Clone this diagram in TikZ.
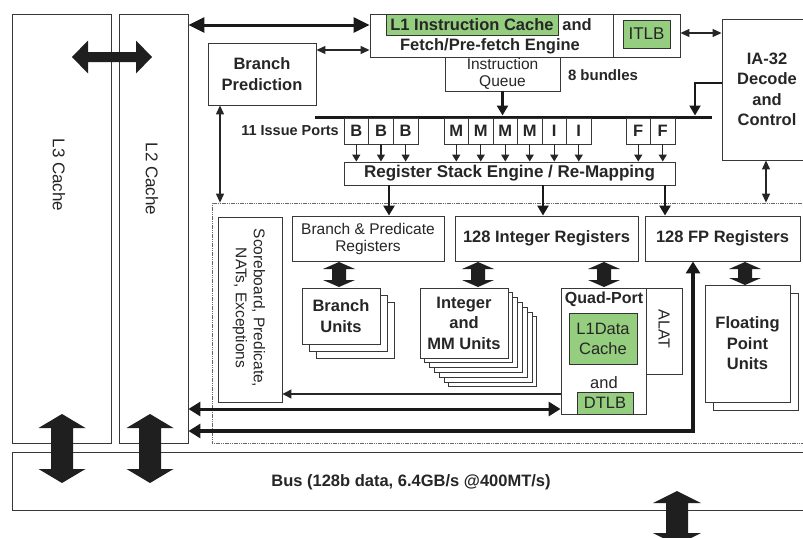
\documentclass[tikz,border=0pt]{standalone}
\usepackage{fontspec}
\setmainfont{Liberation Sans}
\usetikzlibrary{arrows.meta,calc}
\definecolor{hl}{RGB}{150,206,128}
\newcommand\vdarr[6]{\fill[arrfill] (#1,#2) -- ({#1+#5},{#2+#6}) -- ({#1+#4},{#2+#6}) -- ({#1+#4},{#3-#6}) -- ({#1+#5},{#3-#6}) -- (#1,#3) -- ({#1-#5},{#3-#6}) -- ({#1-#4},{#3-#6}) -- ({#1-#4},{#2+#6}) -- ({#1-#5},{#2+#6}) -- cycle;}
\newcommand\hdarr[6]{\fill[arrfill] (#2,#1) -- ({#2+#6},{#1-#5}) -- ({#2+#6},{#1-#4}) -- ({#3-#6},{#1-#4}) -- ({#3-#6},{#1-#5}) -- (#3,#1) -- ({#3-#6},{#1+#5}) -- ({#3-#6},{#1+#4}) -- ({#2+#6},{#1+#4}) -- ({#2+#6},{#1+#5}) -- cycle;}
\begin{document}
\begin{tikzpicture}[x=1pt,y=-1pt,
  box/.style={draw=black!78, line width=0.9pt, fill=white, inner sep=0pt, align=center},
  gbox/.style={draw=black!80, line width=0.9pt, fill=hl, inner sep=0pt, align=center},
  bft/.style={font=\fontsize{16.5}{20.5}\selectfont\bfseries, text=black!85},
  rgt/.style={font=\fontsize{15.5}{17}\selectfont, text=black!85},
  lbl/.style={inner sep=0pt, align=center},
  port/.style={box, minimum height=26pt, font=\fontsize{16.5}{18}\selectfont\bfseries, text=black!85},
  tharr/.style={draw=black!85, line width=1.3pt, -{Triangle[length=7pt,width=8pt]}},
  thboth/.style={draw=black!85, line width=1.2pt, {Triangle[length=9pt,width=8pt]}-{Triangle[length=9pt,width=8pt]}},
  medarr/.style={draw=black!90, line width=2.4pt, -{Triangle[length=10pt,width=11pt]}},
  bigboth/.style={draw=black!90, line width=3pt, {Triangle[length=12pt,width=14pt]}-{Triangle[length=12pt,width=14pt]}},
  topboth/.style={draw=black!90, line width=3pt, {Triangle[length=16pt,width=15pt]}-{Triangle[length=16pt,width=15pt]}},
  arrfill/.style={fill=black!88},
  dotbox/.style={draw=black!60, line width=0.8pt, dash pattern=on 1.2pt off 0.6pt, inner sep=0pt}
]
\useasboundingbox (0,0) rectangle (803,538);
\clip (0,0) rectangle (803,538);
\fill[white] (0,0) rectangle (803,538);

% helper coordinates
\coordinate (y25) at (0,25);
\coordinate (y33) at (0,33);
\coordinate (y50) at (0,50);
\coordinate (y83) at (0,83);
\coordinate (y394) at (0,394);
\coordinate (y409) at (0,409);
\coordinate (y431) at (0,431);
\coordinate (x220) at (220,0);
\coordinate (x389) at (389,0);
\coordinate (x543) at (543,0);
\coordinate (x665) at (665,0);
\coordinate (x693) at (693,0);
\coordinate (x766) at (766,0);
\coordinate (barL) at (315,117);
\coordinate (barR) at (712,117);
\coordinate (barIA) at (695,115.5);

% caches and bus
\node[box, minimum width=99pt, minimum height=429pt] (L3) at (61.5,228.5) {};
\node[box, minimum width=69pt, minimum height=429pt] (L2) at (153.5,228.5) {};
\node[lbl, rotate=-90, font=\fontsize{17}{20}\selectfont, text=black!85] (L3t) at (59,175) {L3 Cache};
\node[lbl, rotate=-90, font=\fontsize{17}{20}\selectfont, text=black!85] (L2t) at (152,179) {L2 Cache};
\node[box, minimum width=808pt, minimum height=58pt] (bus) at (416,481) {};
\node[lbl, bft] (bust) at (411,482) {Bus (128b data, 6.4GB/s @400MT/s)};

% core dotted region
\node[dotbox, minimum width=618pt, minimum height=240pt] (core) at (521,323) {};

% front end
\node[box, minimum width=243pt, minimum height=43pt] (L1) at (491.5,35.5) {};
\node[gbox, bft, minimum width=172pt, minimum height=21pt] (L1g) at (472,24.5) {L1 Instruction Cache};
\node[lbl, bft] (L1and) at (577,25) {and};
\node[lbl, bft] (L1f) at (490,46) {Fetch/Pre-fetch Engine};
\node[box, minimum width=67pt, minimum height=43pt] (ITLBo) at (646.5,35.5) {};
\node[gbox, font=\fontsize{17}{20}\selectfont, text=black!85, minimum width=47pt, minimum height=28pt] (ITLB) at (646.5,34) {ITLB};
\node[box, bft, minimum width=108pt, minimum height=62pt] (BP) at (262,74) {Branch\\Prediction};
\node[box, font=\fontsize{15.5}{17}\selectfont, text=black!85, minimum width=115pt, minimum height=34pt] (IQ) at (502.5,74) {Instruction\\Queue};
\node[lbl, font=\fontsize{15}{17}\selectfont\bfseries, text=black!85] (bund) at (603,75) {8 bundles};
\node[box, bft, minimum width=90pt, minimum height=141pt] (IA) at (767,89.5) {IA-32\\Decode\\and\\Control};

% issue ports
\draw[line width=3pt, black!90] (barL) -- (barR);
\node[lbl, anchor=east, font=\fontsize{14.5}{17}\selectfont\bfseries, text=black!85] (ipt) at (339,131) {11 Issue Ports};
\foreach \i in {0,1,2} \node[port, minimum width=24.67pt] (B\i) at ({356.3+24.67*\i},131) {B};
\foreach \l [count=\i from 0] in {M,M,M,M,I,I} \node[port, minimum width=24.5pt] (P\i) at ({456.25+24.5*\i},131) {\l};
\foreach \i in {0,1} \node[port, minimum width=24.5pt] (F\i) at ({638.25+24.5*\i},131) {F};
\node[box, bft, font=\fontsize{17}{20}\selectfont\bfseries, minimum width=331pt, minimum height=23pt] (RSE) at (509.5,173.5) {Register Stack Engine / Re-Mapping};
\foreach \n in {B0,B1,B2,P0,P1,P2,P3,P4,P5,F0,F1} \draw[tharr] (\n.south) -- (\n.south |- RSE.north);
\draw[medarr] (IQ.south) -- (IQ.south |- barIA);
\draw[medarr, line width=2pt] (IA.west |- y83) -| (barIA);

% registers
\node[box, rgt, minimum width=64pt, minimum height=185pt] (SB) at (250,309.5) {};
\node[lbl, rotate=-90, font=\fontsize{15.5}{18}\selectfont, text=black!85] (SBt) at (249,308) {Scoreboard, Predicate,\\NATs, Exceptions};
\node[box, rgt, minimum width=152pt, minimum height=45pt] (BPR) at (368,238.5) {Branch \& Predicate\\Registers};
\node[box, bft, minimum width=183pt, minimum height=45pt] (IR) at (546.5,238.5) {128 Integer Registers};
\node[box, bft, minimum width=155pt, minimum height=45pt] (FPR) at (722.5,238.5) {128 FP Registers};
\draw[medarr] (RSE.south -| x389) -- (BPR.north -| x389);
\draw[medarr] (RSE.south -| x543) -- (IR.north -| x543);
\draw[medarr] (RSE.south -| x665) -- (FPR.north -| x665);

% execution units
\foreach \k in {2,1} \draw[box] ({302+7*\k},{288+7*\k}) rectangle ({380+7*\k},{344+7*\k});
\node[box, bft, minimum width=78pt, minimum height=56pt] (BU) at (341,316) {Branch\\Units};
\foreach \k in {6,5,4,3,2,1} \draw[box] ({420+4.8*\k},{288+4.8*\k}) rectangle ({508+4.8*\k},{358+4.8*\k});
\node[box, bft, minimum width=88pt, minimum height=70pt] (IU) at (464,323) {Integer\\and\\MM Units};
\node[box, minimum width=36pt, minimum height=86pt] (ALAT) at (664,331) {};
\node[lbl, rotate=-90, font=\fontsize{16}{18}\selectfont, text=black!85] (ALATt) at (664,329) {ALAT};
\node[box, minimum width=85pt, minimum height=126pt] (QP) at (603.5,351) {};
\node[lbl, font=\fontsize{16}{18}\selectfont\bfseries, text=black!85] (QPt) at (604,299) {Quad-Port};
\node[gbox, font=\fontsize{16.5}{20}\selectfont, text=black!85, minimum width=68pt, minimum height=51pt] (L1D) at (603,338.5) {L1Data\\Cache};
\node[lbl, font=\fontsize{16.5}{20}\selectfont, text=black!85] (QPand) at (604,383) {and};
\node[gbox, font=\fontsize{16.5}{20}\selectfont, text=black!85, minimum width=56pt, minimum height=22pt] (DTLB) at (605,403) {DTLB};
\draw[box] (713,293) rectangle (798,410);
\node[box, bft, minimum width=85pt, minimum height=117pt] (FPU) at (747.5,343.5) {Floating\\Point\\Units};

% block arrows
\hdarr{57}{72}{152}{5}{16.5}{16}
\vdarr{62}{414}{483}{11}{23.5}{14}
\vdarr{150}{414}{483}{11}{23.5}{14}
\vdarr{677}{491}{545}{11}{24}{12}
\vdarr{339}{262}{287}{7}{16}{7}
\vdarr{478}{262}{287}{7}{16}{7}
\vdarr{604}{262}{287}{7}{16}{7}
\vdarr{745}{262}{285}{7}{16}{7}

% connectors
\draw[topboth] (L2.east |- y25) -- (L1.west |- y25);
\draw[thboth] (BP.east |- y50) -- (L1.west |- y50);
\draw[thboth] (ITLBo.east |- y33) -- (IA.west |- y33);
\draw[thboth] (BP.south -| x220) -- (core.north -| x220);
\draw[thboth] (IA.south -| x766) -- (core.north -| x766);
\draw[tharr, -{Triangle[length=9pt,width=9pt]}] (QP.west |- y394) -- (SB.east |- y394);
\draw[bigboth] (L2.east |- y409) -- (QP.west |- y409);
\draw[bigboth, line width=3.5pt] (L2.east |- y431) -| (FPR.south -| x693);
\end{tikzpicture}
\end{document}
